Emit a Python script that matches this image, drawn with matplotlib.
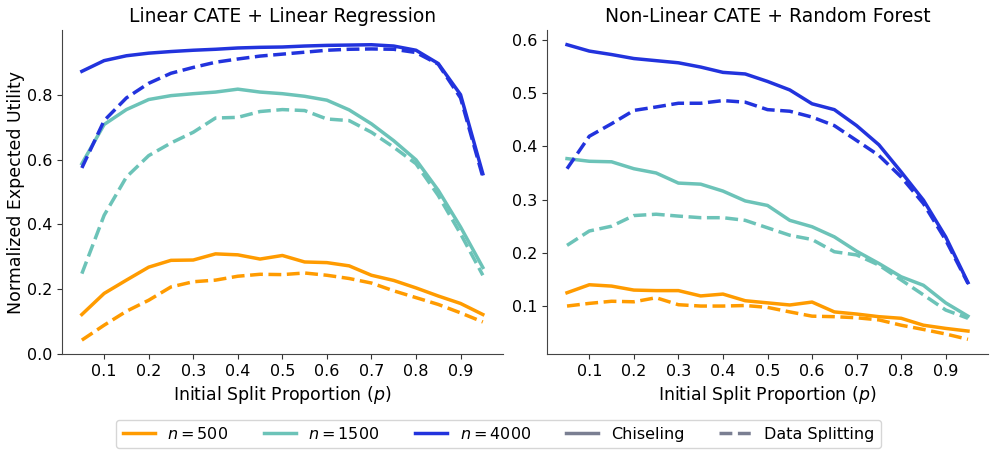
import numpy as np
import matplotlib.pyplot as plt
from matplotlib.lines import Line2D

# initial split proportions
p = [0.05, 0.10, 0.15, 0.20, 0.25, 0.30, 0.35, 0.40, 0.45, 0.50,
     0.55, 0.60, 0.65, 0.70, 0.75, 0.80, 0.85, 0.90, 0.95]

# Linear CATE + Linear Regression
lin_chis_500 = [0.122, 0.187, 0.228, 0.268, 0.289, 0.290, 0.309, 0.306, 0.293, 0.304,
                0.284, 0.282, 0.272, 0.243, 0.227, 0.204, 0.179, 0.156, 0.122]
lin_split_500 = [0.043, 0.089, 0.132, 0.166, 0.207, 0.223, 0.228, 0.240, 0.246, 0.245,
                 0.250, 0.243, 0.233, 0.219, 0.195, 0.174, 0.153, 0.127, 0.099]
lin_chis_1500 = [0.587, 0.708, 0.754, 0.785, 0.797, 0.803, 0.808, 0.817, 0.808, 0.803,
                 0.795, 0.783, 0.753, 0.710, 0.658, 0.599, 0.505, 0.392, 0.267]
lin_split_1500 = [0.248, 0.428, 0.546, 0.612, 0.651, 0.684, 0.728, 0.730, 0.748, 0.754,
                  0.751, 0.725, 0.720, 0.684, 0.638, 0.587, 0.489, 0.371, 0.243]
lin_chis_4000 = [0.872, 0.905, 0.920, 0.928, 0.933, 0.937, 0.940, 0.944, 0.946, 0.947,
                 0.950, 0.952, 0.953, 0.954, 0.950, 0.937, 0.896, 0.800, 0.556]
lin_split_4000 = [0.574, 0.720, 0.790, 0.835, 0.866, 0.884, 0.900, 0.910, 0.919, 0.925,
                  0.931, 0.937, 0.940, 0.941, 0.940, 0.930, 0.894, 0.790, 0.546]

# Non-Linear CATE + Random Forest
rf_chis_500 = [0.125, 0.140, 0.1375, 0.130, 0.129, 0.129, 0.119, 0.1225, 0.110, 0.106,
               0.102, 0.1075, 0.089, 0.085, 0.080, 0.077, 0.064, 0.058, 0.053]
rf_split_500 = [0.100, 0.105, 0.109, 0.108, 0.1156, 0.1025, 0.100, 0.100, 0.101, 0.0975,
                0.089, 0.081, 0.080, 0.078, 0.074, 0.064, 0.056, 0.0475, 0.0375]
rf_chis_1500 = [0.377, 0.372, 0.371, 0.358, 0.350, 0.331, 0.329, 0.316, 0.2975, 0.289,
                0.261, 0.249, 0.230, 0.203, 0.180, 0.155, 0.139, 0.106, 0.081]
rf_split_1500 = [0.214, 0.241, 0.250, 0.270, 0.2725, 0.269, 0.266, 0.266, 0.261, 0.247,
                 0.233, 0.225, 0.202, 0.196, 0.177, 0.149, 0.121, 0.0925, 0.077]
rf_chis_4000 = [0.591, 0.579, 0.5725, 0.565, 0.561, 0.557, 0.549, 0.539, 0.536, 0.522,
                0.506, 0.480, 0.469, 0.439, 0.403, 0.352, 0.299, 0.230, 0.144]
rf_split_4000 = [0.358, 0.419, 0.4425, 0.4675, 0.474, 0.481, 0.481, 0.486, 0.483, 0.469,
                 0.466, 0.455, 0.439, 0.411, 0.383, 0.3425, 0.2925, 0.224, 0.1425]

titles = ['Linear CATE + Linear Regression', 'Non-Linear CATE + Random Forest']
sizes = ['500', '1500', '4000']
colors = ['#ff9b00', '#6cc3b8', '#2233dd']
gray = '#7a7f92'

panels = [
    [(lin_chis_500, lin_split_500), (lin_chis_1500, lin_split_1500), (lin_chis_4000, lin_split_4000)],
    [(rf_chis_500, rf_split_500), (rf_chis_1500, rf_split_1500), (rf_chis_4000, rf_split_4000)],
]

fig, axes = plt.subplots(1, 2, figsize=(9.97, 4.61), dpi=100)
plt.subplots_adjust(left=0.062, right=0.991, bottom=0.232, top=0.935, wspace=0.1)

for ax, title, panel in zip(axes, titles, panels):
    for (chis, split), c in zip(panel, colors):
        ax.plot(p, chis, color=c, lw=2.5, ls='-')
        ax.plot(p, split, color=c, lw=2.5, ls='--')
    ax.set_title(title, fontsize=13.5)
    ax.set_xlabel('Initial Split Proportion ($p$)', fontsize=12.5)
    ax.set_xticks([0.1, 0.2, 0.3, 0.4, 0.5, 0.6, 0.7, 0.8, 0.9])
    ax.tick_params(labelsize=11.5, color='#333333')
    ax.spines['top'].set_visible(False)
    ax.spines['right'].set_visible(False)
    for s in ['left', 'bottom']:
        ax.spines[s].set_color('#444444')

axes[0].set_ylim(bottom=0)
axes[0].set_ylabel('Normalized Expected Utility', fontsize=12.5, labelpad=1)

handles = [Line2D([], [], color=c, lw=2.5) for c in colors]
handles += [Line2D([], [], color=gray, lw=2.5, ls='-'),
            Line2D([], [], color=gray, lw=2.5, ls='--')]
labels = ['$n=%s$' % n for n in sizes] + ['Chiseling', 'Data Splitting']
fig.legend(handles, labels, loc='lower center', bbox_to_anchor=(0.5, 0.01),
           ncol=5, fontsize=11.5, frameon=True, columnspacing=2.2)

plt.savefig('out.png', dpi=100)
